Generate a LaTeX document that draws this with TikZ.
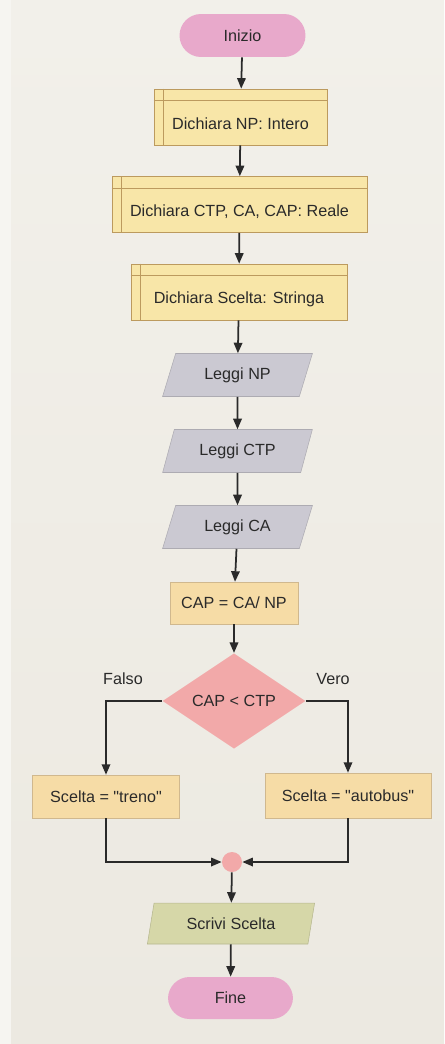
\documentclass[tikz,border=0pt]{standalone}
\usepackage{fontspec}
\setmainfont{Liberation Sans}
\usetikzlibrary{shapes.geometric,arrows.meta}
\definecolor{paper}{HTML}{ECE9E1}
\definecolor{papertop}{HTML}{F2F0EA}
\definecolor{margin}{HTML}{F6F5F1}
\definecolor{ink}{HTML}{2A2A2A}
\definecolor{declfill}{HTML}{F8E6A8}
\definecolor{declline}{HTML}{BC9A5E}
\definecolor{opfill}{HTML}{F6DCA6}
\definecolor{iofill}{HTML}{CBC9D2}
\definecolor{outfill}{HTML}{D6D7A8}
\definecolor{termfill}{HTML}{E8A9CB}
\definecolor{testfill}{HTML}{F2A9A9}
\tikzset{
    x=0.02cm, y=-0.02cm,
    every node/.style={text=ink, font=\fontsize{9.2}{11}\selectfont},
    term/.style={rectangle, rounded corners=0.43cm, fill=termfill, minimum width=2.52cm, minimum height=0.86cm},
    decl/.style={rectangle, fill=declfill, draw=declline, line width=0.4pt, minimum height=1.12cm},
    oper/.style={rectangle, fill=opfill, draw=declline!70, line width=0.3pt, minimum height=0.86cm},
    io/.style={trapezium, trapezium stretches=true, trapezium left angle=65, trapezium right angle=115,
        fill=iofill, draw=iofill!85!black, line width=0.3pt, minimum width=3cm, minimum height=0.86cm, inner sep=0pt},
    test/.style={diamond, fill=testfill, minimum width=2.86cm, minimum height=1.68cm, inner sep=0pt},
    link/.style={draw=ink, line width=1pt, -{Triangle[length=2.1mm,width=1.7mm]}},
}
\newcommand{\declbox}[5] {
    \node[decl, minimum width={#4}] (#1) at ({#2}, {#3}) {};
    \draw[declline, line width=0.6pt] ([yshift=-0.24cm]#1.north west) -- ([yshift=-0.24cm]#1.north east);
    \draw[declline, line width=0.6pt] ([xshift=0.2cm]#1.north west) -- ([xshift=0.2cm]#1.south west);
    \node (#1-text) at ([yshift=-0.14cm]#1.center) {#5};
}

\begin{document}
\begin{tikzpicture}
    \useasboundingbox (0,0) rectangle (444,1044);
    \shade[top color=papertop, bottom color=paper] (0,0) rectangle (444,1044);
    \fill[margin] (0,0) rectangle (11,1044);
    \node[term] (ini) at (242.5,35.5) {Inizio};
    \declbox{d1}{240.5}{117}{3.46cm}{Dichiara NP: Intero}
    \declbox{d2}{239.5}{204.5}{5.1cm}{Dichiara CTP, CA, CAP: Reale}
    \declbox{d3}{239}{292}{4.32cm}{Dichiara Scelta: Stringa}
    \foreach \name/\y/\txt in {in1/375/Leggi NP, in2/451/Leggi CTP, in3/527/Leggi CA}
        \node[io] (\name) at (237.5,\y) {\txt};
    \node[oper, minimum width=2.56cm, minimum height=0.84cm] (cap) at (234,603) {CAP = CA/ NP};
    \node[test] (dec) at (234,701) {CAP < CTP};
    \node (falso) at (123,679) {Falso};
    \node (vero) at (333,679) {Vero};
    \node[oper, minimum width=2.94cm] (treno) at (106,796.5) {Scelta = \textquotedbl treno\textquotedbl};
    \node[oper, minimum width=3.32cm, minimum height=0.9cm] (autobus) at (348,795.5) {Scelta = \textquotedbl autobus\textquotedbl};
    \node[circle, fill=testfill, minimum size=0.4cm, inner sep=0pt] (join) at (232,862) {};
    \node[io, trapezium left angle=72, trapezium right angle=108, fill=outfill, draw=outfill!85!black,
        minimum width=3.36cm, minimum height=0.82cm] (out) at (231,923.5) {Scrivi Scelta};
    \node[term, minimum width=2.5cm, minimum height=0.84cm] (fine) at (230.5,998) {Fine};
    \foreach \a/\b in {ini/d1, d1/d2, d2/d3, d3/in1, in1/in2, in2/in3, in3/cap, cap/dec, join/out, out/fine}
        \draw[link] (\a) -- (\b);
    \draw[link] (dec.west) -| (treno);
    \draw[link] (dec.east) -| (autobus);
    \draw[link] (treno) |- (join);
    \draw[link] (autobus) |- (join);
\end{tikzpicture}
\end{document}
